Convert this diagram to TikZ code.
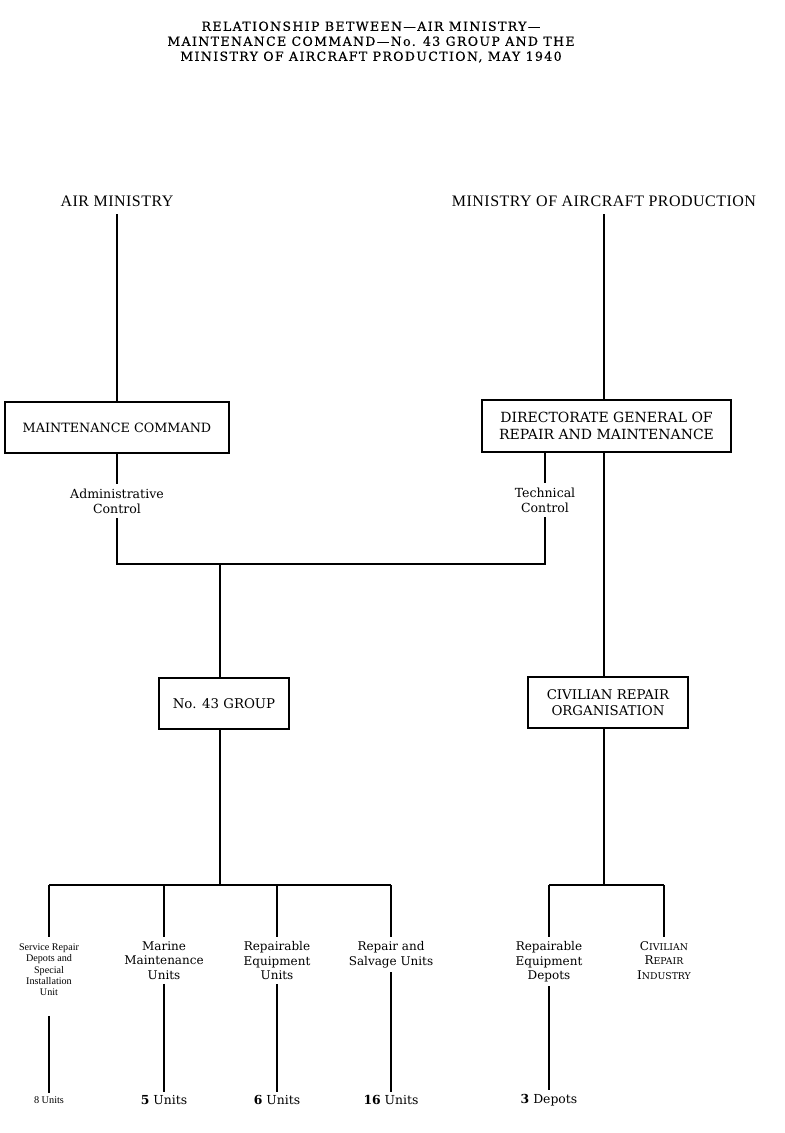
\documentclass[tikz,border=0pt]{standalone}
\usepackage{fontspec}
\setmainfont{DejaVu Serif}
\newfontfamily\titlefont[LetterSpace=11,FakeBold=0.5]{DejaVu Serif}
\newfontfamily\headfont[LetterSpace=3]{Liberation Serif}
\newfontfamily\smallfont{Liberation Serif}
\usepackage{tkz-euclide}
\newcommand\fakesc[2]{#1{\fontsize{7}{8}\selectfont #2}}

\begin{document}
\begin{tikzpicture}[x=0.75pt,y=-0.75pt,line width=1.6pt,
    chartbox/.style={draw,line width=1.4pt,inner sep=0pt,align=center,
      font=\fontsize{10}{12.5}\selectfont},
    heading/.style={font=\headfont\fontsize{12}{13}\selectfont,inner sep=5pt},
    control/.style={align=center,inner sep=3pt,font=\fontsize{9.4}{11.25}\selectfont},
    branch/.style={align=center,anchor=north,inner ysep=2.5pt,
      font=\fontsize{9}{10.9}\selectfont},
    tally/.style={inner sep=2pt,font=\fontsize{9.3}{11}\selectfont}]
        \useasboundingbox (0,0) rectangle (785,1133);
        \node[align=center,font=\titlefont\fontsize{9.4}{11.25}\selectfont] (title) at (371,42)
            {RELATIONSHIP BETWEEN—AIR MINISTRY—\\
             MAINTENANCE COMMAND—No. 43 GROUP AND THE\\
             MINISTRY OF AIRCRAFT PRODUCTION, MAY 1940};
        % the two ministries
        \node[heading] (air) at (117,201) {AIR MINISTRY};
        \node[heading] (map) at (604,201) {MINISTRY OF AIRCRAFT PRODUCTION};
        \node[chartbox,line width=2.2pt,minimum width=168pt,minimum height=38.25pt,
            font=\fontsize{9.6}{12}\selectfont] (mc) at (117,427.5) {MAINTENANCE COMMAND};
        \node[chartbox,minimum width=186.75pt,minimum height=39pt,
            font=\fontsize{10.5}{12.5}\selectfont]
            (dgrm) at (606.5,426) {DIRECTORATE GENERAL OF\\REPAIR AND MAINTENANCE};
        \node[control] (admin) at (117,501) {Administrative\\Control};
        \node[control] (tech) at (545,500) {Technical\\Control};
        \node[chartbox,minimum width=97.5pt,minimum height=38.25pt]
            (g43) at (224,703.5) {No. 43 GROUP};
        \node[chartbox,minimum width=120pt,minimum height=38.25pt]
            (cro) at (608,702.5) {CIVILIAN REPAIR\\ORGANISATION};
        \tkzDefPoint(117,564){J1}
        \tkzDefPoint(545,564){J2}
        \tkzDefPoint(220,564){J3}
        % branches of the two chains
        \foreach \x/\n/\t/\c in {164/mmu/{Marine\\Maintenance\\Units}/{\textbf{5} Units},
            277/reu/{Repairable\\Equipment\\Units}/{\textbf{6} Units},
            391/rsu/{Repair and\\Salvage Units}/{\textbf{16} Units},
            549/red/{Repairable\\Equipment\\Depots}/{\textbf{3} Depots}}{%
            \coordinate (\n-top) at (\x,885);
            \node[branch] (\n) at (\x,937) {\t};
            \node[tally] (\n-n) at (\x,1100) {\c};
            \draw (\n-top) -- (\n) -- (\n-n);}
        \coordinate (sr-top) at (49,885);
        \node[branch,inner ysep=4pt,font=\smallfont\fontsize{7.6}{8.6}\selectfont] (sr) at (49,937)
            {Service Repair\\Depots and\\Special\\Installation\\Unit};
        \node[tally,font=\smallfont\fontsize{7.7}{9}\selectfont] (sr-n) at (49,1100) {8 Units};
        \draw (sr-top) -- (sr);
        \draw[shorten <=10pt] (sr) -- (sr-n);
        \coordinate (cri-top) at (664,885);
        \node[branch] (cri) at (664,937)
            {\fakesc{C}{IVILIAN}\\\fakesc{R}{EPAIR}\\\fakesc{I}{NDUSTRY}};
        \draw (cri-top) -- (cri);
        % connectors
        \draw (air.south) -- (air.south |- mc.north);
        \draw (map.south) -- (map.south |- dgrm.north);
        \draw (map.south |- dgrm.south) -- (map.south |- cro.north);
        \draw (map.south |- cro.south) -- (map.south |- red-top);
        \draw (mc) -- (admin) -- (J1) -- (J2) -- (tech) -- (tech |- dgrm.south);
        \draw (J3) -- (J3 |- g43.north);
        \draw (J3 |- g43.south) -- (J3 |- sr-top);
        \draw (sr-top) -- (rsu-top);
        \draw (red-top) -- (cri-top);
\end{tikzpicture}
\end{document}
